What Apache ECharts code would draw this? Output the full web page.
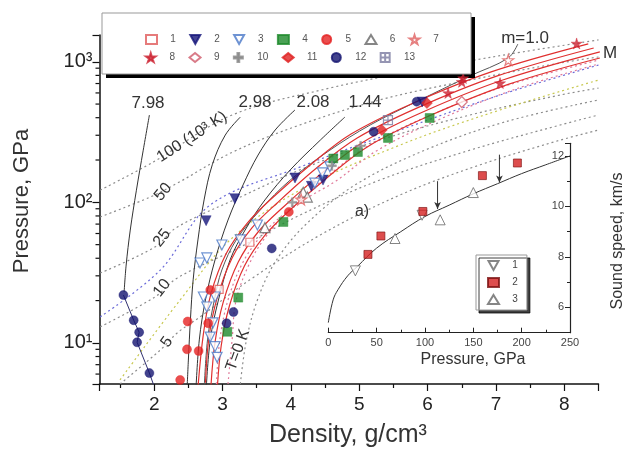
<!DOCTYPE html>
<html><head><meta charset="utf-8">
<script src="https://cdn.jsdelivr.net/npm/echarts@6/dist/echarts.min.js"></script>
<style>html,body{margin:0;padding:0;background:#fff}#c{width:626px;height:450px}</style>
</head><body><div id="c"></div>
<script>
// ---------- main plot: black Hugoniots (porosity m) ----------
const hug798 = [[1.93,418],[1.84,235],[1.74,122],[1.65,63.5],[1.59,35.8],[1.56,23.0]];
const hug798Tail = [[1.55,21.9],[1.70,14.5],[1.78,11.9],[1.75,10.1],[1.93,6.1],[2.02,4.6]];
const hug298 = [[3.26,404],[3.04,301],[2.85,185],[2.73,104],[2.64,54],[2.57,28.1],[2.53,14.6],[2.50,7.55],[2.48,4.6]];
const hug208 = [[4.06,454],[3.77,327],[3.52,217],[3.30,133],[3.08,74.8],[2.89,38.9],[2.75,20.2],[2.66,10.5],[2.61,4.6]];
const hug144 = [[4.79,404],[4.43,277],[3.99,170],[3.62,104],[3.33,63.5],[3.11,38.9],[2.94,20.2],[2.82,10.5],[2.76,4.6]];
const hugM1 = [[7.32,1337],[7.18,1064],[6.62,793],[5.89,535],[5.16,355],[4.57,235],[3.99,144],[3.55,88],[3.20,54],[2.99,33],[2.88,20.2],[2.78,10.5],[2.73,4.6]];
// ---------- red model Hugoniots ----------
const red1 = [[2.64,4.8],[2.72,11.6],[2.83,22.3],[3.05,42.9],[3.35,70.1],[3.71,105.6],[4.30,187.5],[4.88,306],[5.76,501],[6.93,847],[8.35,1340]];
const red2 = [[2.75,5.2],[2.80,10.8],[2.92,20.8],[3.14,40.2],[3.43,65.8],[3.80,99],[4.38,176],[4.97,287],[5.85,470],[7.02,793],[8.43,1253]];
const red3 = [[2.83,4.9],[2.89,10.1],[3.01,19.5],[3.23,37.6],[3.52,61.5],[3.89,92.7],[4.47,164],[5.06,269],[5.93,439],[7.10,741],[8.52,1175]];
const red4 = [[2.92,4.5],[2.98,9.5],[3.10,18.3],[3.32,35.2],[3.61,57.5],[3.97,86.7],[4.56,154],[5.14,252],[6.02,411],[7.19,693],[8.52,1064]];
// ---------- isotherms (10^3 K) ----------
const iso100 = [[1.21,122],[1.99,194],[3.14,418],[4.57,650],[5.89,874],[7.2,1135],[8.5,1429]];
const iso50 = [[1.21,78.7],[1.94,109],[2.34,137],[3.15,228],[4.13,355],[5.3,535],[6.62,741],[7.94,980],[8.5,1081]];
const iso25 = [[1.21,31.4],[2.01,48.1],[2.34,66.8],[3.26,109],[4.13,170],[5.3,277],[6.62,418],[7.94,580],[8.5,650]];
const iso10 = [[1.21,13],[2.01,21.2],[2.34,29],[3.26,48.1],[4.13,81],[5.3,144],[6.62,235],[7.94,355],[8.5,418]];
const iso5 = [[1.5,5.1],[2.09,8.9],[2.34,11.8],[2.67,15.3],[3.4,28.1],[4.43,58.6],[5.6,113],[6.77,185],[7.94,277],[8.5,327]];
const isoT0 = [[3.26,5.1],[3.35,10.5],[3.51,20.2],[3.77,37.6],[4.21,69],[4.94,133],[5.96,235],[7.13,373],[8.5,535]];
const blueDot = [[1.21,15.3],[2.09,33],[2.82,95.7],[4.13,178],[5.6,327],[7.06,580],[8.5,948]];
const yellowDot = [[1.5,5.45],[2.38,20.2],[3.11,54],[4.13,122],[5.6,256],[7.06,454],[8.5,741]];
const pinkDot1 = [[2.91,5.1],[2.96,10.5],[3.08,20.2],[3.30,37.6],[3.59,59.6],[3.96,88],[4.54,154],[5.13,252],[6.01,411],[7.18,683],[8.5,1028]];
const pinkDot2 = [[3.08,5.1],[3.14,10.5],[3.20,20.2],[3.42,38.9],[3.71,63.5],[4.08,95.7],[4.66,142],[5.25,232],[6.12,379],[7.29,640],[8.5,964]];
// ---------- experimental points (density, pressure) ----------
const s1 = [[2.95,24],[3.40,52]];
const s2 = [[2.76,74],[3.18,106],[4.06,149],[4.30,130],[4.47,144],[5.92,517]];
const s3 = [[2.67,37],[2.77,40.2],[2.72,21.2],[2.89,21.2],[2.77,18],[2.86,13.9],[2.82,11],[2.89,9.4],[2.92,7.9],[2.99,49.7],[3.26,54],[3.51,69],[4.35,137],[4.46,162],[4.57,179]];
const s4 = [[3.07,12],[3.23,21],[3.89,72.5],[4.62,205],[4.79,217],[4.98,228],[5.42,287],[6.03,398]];
const s5 = [[2.38,5.45],[2.48,9.0],[2.65,8.75],[2.49,14.2],[2.79,13.8],[2.82,23.8],[3.97,85.5]];
const s6 = [[4.18,118],[4.24,109],[3.62,66]];
const s7 = [[7.18,1029],[4.15,105]];
const s8 = [[6.30,600],[6.50,720],[6.52,765],[7.06,705],[8.18,1350]];
const s9 = [[6.50,517]];
const s10 = [[4.02,100],[4.60,182],[5.02,252]];
const s11 = [[5.99,508],[5.33,327]];
const s12 = [[1.55,21.9],[1.70,14.5],[1.78,11.9],[1.75,10.1],[1.93,6.1],[3.06,13.8],[3.16,16.6],[3.72,47],[5.21,318],[5.84,520]];
const s13 = [[5.42,385]];
// ---------- inset: sound speed vs pressure ----------
const insetCurve = [[0,5.4],[5,6.3],[10,6.7],[20,7.25],[30,7.62],[50,8.35],[75,9.0],[100,9.6],[125,10.05],[150,10.5],[175,10.9],[200,11.3],[225,11.65],[250,12.0]];
const a1 = [[28,7.45],[97,9.65]];
const a2 = [[41,8.1],[54.4,8.83],[97.8,9.8],[159.4,11.22],[195.6,11.72]];
const a3 = [[69,8.73],[115.7,9.47],[150,10.55]];
const arrow1 = [[113,11.0],[113,9.9]];
const arrow2 = [[177,12.05],[177,10.95]];
// ---------- ticks / legend labels ----------
const yMinorTicks = [6,7,8,9,20,30,40,50,60,70,80,90,200,300,400,500,600,700,800,900];
const legendRow1 = ['1','2','3','4','5','6','7'];
const legendRow2 = ['8','9','10','11','12','13'];
const insetLegend = ['a1','a2','a3'];

const FONT = 'Liberation Sans, Arial, sans-serif';
const STAR = 'path://M50,0 L61,35 L98,35 L68,57 L79,91 L50,70 L21,91 L32,57 L2,35 L39,35 Z';
const PLUS = 'path://M4,0h2v4h4v2h-4v4h-2v-4h-4v-2h4z';
const BOXX = 'path://M0,0H10V10H0ZM5,0V10M0,5H10';
const DOWN = 'path://M0,0L10,0L5,9Z';
const sup = {1:'\u00b9',2:'\u00b2',3:'\u00b3'};

function line(data, color, width, type, smooth){
  return {type:'line', xAxisIndex:0, yAxisIndex:0, data, symbol:'none', smooth: smooth==null?0.35:smooth,
    lineStyle:{color, width, type: type||'solid'}, silent:true, z:1};
}
function open(name, data, symbol, color, size, rot){
  return {type:'scatter', name, data, symbol, symbolSize:size||9, symbolRotate:rot||0,
    itemStyle:{color:'#fff', borderColor:color, borderWidth:1.2}, z:3};
}
function fill(name, data, symbol, color, size, rot){
  return {type:'scatter', name, data, symbol, symbolSize:size||9, symbolRotate:rot||0,
    itemStyle:{color:color, borderColor:color, borderWidth:0.5}, z:3};
}
const DOT = [2,3];
const series = [
  line(iso100,'#8c8c8c',1.2,DOT), line(iso50,'#8c8c8c',1.2,DOT), line(iso25,'#8c8c8c',1.2,DOT),
  line(iso10,'#8c8c8c',1.2,DOT), line(iso5,'#8c8c8c',1.2,DOT), line(isoT0,'#8c8c8c',1.2,DOT),
  line(blueDot,'#6a6ad8',1.2,DOT), line(yellowDot,'#c8c850',1.2,DOT),
  line(pinkDot1,'#e07a9a',1.2,DOT), line(pinkDot2,'#e07a9a',1.2,DOT),
  line(hug798,'#333',1), line(hug798Tail,'#303070',1,'solid',0), line(hug298,'#333',1), line(hug208,'#333',1),
  line(hug144,'#333',1), line(hugM1,'#555',1),
  line(red1,'#e0302f',1.2), line(red2,'#e0302f',1.2), line(red3,'#e0302f',1.2), line(red4,'#e0302f',1.2),
  open('1', s1, 'rect', '#e05a5a', 8),
  fill('2', s2, DOWN, '#15157a', 10),
  open('3', s3, DOWN, '#4a78c8', 10),
  fill('4', s4, 'rect', '#1d8a2a', 9),
  fill('5', s5, 'circle', '#e52222', 9),
  open('6', s6, 'triangle', '#666', 10),
  open('7', s7, STAR, '#e06060', 11),
  fill('8', s8, STAR, '#cc2030', 11),
  open('9', s9, 'diamond', '#d05a6a', 11),
  fill('10', s10, PLUS, '#888', 9),
  fill('11', s11, 'diamond', '#e02020', 11),
  fill('12', s12, 'circle', '#141470', 9),
  {type:'scatter', name:'13', data:s13, symbol:BOXX, symbolSize:9, itemStyle:{color:'rgba(255,255,255,0)', borderColor:'#7a7aa0', borderWidth:1.2}, z:3},
  {type:'custom', xAxisIndex:0, yAxisIndex:0, clip:false, silent:true, z:5,
    data: yMinorTicks.map(v=>[1.2, v]),
    renderItem:(p, api)=>{ const pt = api.coord([api.value(0), api.value(1)]);
      return {type:'line', shape:{x1:pt[0]-4, y1:pt[1], x2:pt[0], y2:pt[1]}, style:{stroke:'#111', lineWidth:1.2}}; }},
  // inset
  {type:'line', xAxisIndex:1, yAxisIndex:1, data:insetCurve, symbol:'none', smooth:0.4, silent:true,
    lineStyle:{color:'#333', width:1}, z:2},
  {type:'line', xAxisIndex:1, yAxisIndex:1, data:arrow1.map((d,i)=> i===0 ? {value:d, symbol:'none'} : {value:d}),
    symbol:'arrow', symbolRotate:180, symbolSize:[5,7], silent:true, showSymbol:true,
    lineStyle:{color:'#333', width:1}, itemStyle:{color:'#333'}, z:2},
  {type:'line', xAxisIndex:1, yAxisIndex:1, data:arrow2.map((d,i)=> i===0 ? {value:d, symbol:'none'} : {value:d}),
    symbol:'arrow', symbolRotate:180, symbolSize:[5,7], silent:true, showSymbol:true,
    lineStyle:{color:'#333', width:1}, itemStyle:{color:'#333'}, z:2},
  {type:'scatter', name:'a1', xAxisIndex:1, yAxisIndex:1, data:a1, symbol:DOWN, symbolSize:10,
    itemStyle:{color:'#fff', borderColor:'#666', borderWidth:1}, z:3},
  {type:'scatter', name:'a2', xAxisIndex:1, yAxisIndex:1, data:a2, symbol:'rect', symbolSize:8,
    itemStyle:{color:'#d42020', borderColor:'#7a1010', borderWidth:0.8}, z:3},
  {type:'scatter', name:'a3', xAxisIndex:1, yAxisIndex:1, data:a3, symbol:'triangle', symbolSize:10,
    itemStyle:{color:'#fff', borderColor:'#666', borderWidth:1}, z:3}
];

function txt(text, x, y, size, rot){
  return {type:'text', x, y, rotation: (rot||0)*Math.PI/180, z:6, silent:true,
    style:{text, fill:'#333', font: (size)+'px '+FONT, align:'center', verticalAlign:'middle'}};
}
const graphics = [
  {type:'rect', z:3, silent:true, shape:{x:106,y:17,width:369,height:61}, style:{fill:'#000'}},
  {type:'rect', z:4, silent:true, shape:{x:102,y:13,width:369,height:61}, style:{fill:'#fff', stroke:'#999', lineWidth:1}},
  txt('7.98',148,103,17), txt('2.98',255,102,17), txt('2.08',313,102,17), txt('1.44',365,102,17),
  txt('m=1.0',525,38,17), txt('M',610,53,17),
  txt('100 (10\u00b3 K)',192,137,16,33), txt('50',163,192,16,50), txt('25',162,238,16,52),
  txt('10',162,288,16,52), txt('5',167,342,16,55), txt('T=0 K',238,350,16,70),
  txt('a)',362,212,16),
  txt('Density, g/cm\u00b3',348,435,25),
  txt('Pressure, GPa',22,201,22,90),
  txt('Pressure, GPa',473,360,16),
  txt('Sound speed, km/s',618,241,16,90)
];

const legendCommon = {itemWidth:11, itemHeight:9, selectedMode:false, z:5, padding:0,
  textStyle:{fontSize:10, color:'#555', fontFamily:FONT}};
const chart = echarts.init(document.getElementById('c'), null, {renderer:'canvas'});
chart.setOption({
  animation:false,
  textStyle:{fontFamily:FONT},
  grid:[{left:99.5, right:27.5, top:35, bottom:66}, {left:328.3, right:56, top:143.3, bottom:117.3}],
  xAxis:[
    {type:'value', gridIndex:0, min:1.2, max:8.5, splitNumber:7,
      axisLine:{show:true, onZero:false, lineStyle:{color:'#111', width:1.5}},
      axisTick:{show:true, length:7, lineStyle:{color:'#111', width:1.2}},
      minorTick:{show:true, splitNumber:2, length:4, lineStyle:{color:'#111', width:1.2}},
      axisLabel:{fontSize:19, color:'#222', margin:11, formatter:v=> Number.isInteger(v)? String(v):''},
      splitLine:{show:false}},
    {type:'value', gridIndex:1, min:0, max:250, interval:50,
      axisLine:{show:true, onZero:false, lineStyle:{color:'#222', width:1.2}},
      axisTick:{show:true, inside:true, length:5, lineStyle:{color:'#222'}},
      minorTick:{show:true, splitNumber:2, length:3, lineStyle:{color:'#222'}},
      axisLabel:{fontSize:11, color:'#444', margin:5},
      splitLine:{show:false}}
  ],
  yAxis:[
    {type:'log', logBase:10, gridIndex:0, min:5.1, max:1550,
      axisLine:{show:true, onZero:false, lineStyle:{color:'#111', width:1.5}},
      axisTick:{show:true, length:7, lineStyle:{color:'#111', width:1.2}},
      axisLabel:{fontSize:20, color:'#222', margin:7,
        formatter:v=>{ const l=Math.log10(v), e=Math.round(l); return Math.abs(l-e)<1e-6 && sup[e] ? '10'+sup[e] : ''; }},
      splitLine:{show:false}},
    {type:'value', gridIndex:1, position:'right', min:5, max:12.5,
      axisLine:{show:true, onZero:false, lineStyle:{color:'#222', width:1.2}},
      axisTick:{show:true, inside:true, length:5, lineStyle:{color:'#222'}},
      minorTick:{show:true, splitNumber:2, length:3, lineStyle:{color:'#222'}},
      axisLabel:{inside:true, fontSize:11, color:'#444', margin:6, formatter:v=> (v%2===0 ? String(v) : '')},
      splitLine:{show:false}}
  ],
  legend:[
    Object.assign({}, legendCommon, {data:legendRow1, left:145, top:34, itemGap:13.4, formatter:'   {name}'}),
    Object.assign({}, legendCommon, {data:legendRow2, left:145, top:52, itemGap:13.4, formatter:'   {name}'}),
    Object.assign({}, legendCommon, {data:insetLegend, orient:'vertical', left:476, top:255, itemGap:6,
      padding:[5,9,5,11], backgroundColor:'#fff', borderColor:'#999', borderWidth:1,
      shadowColor:'rgba(0,0,0,0.75)', shadowOffsetX:3, shadowOffsetY:3, shadowBlur:0,
      formatter:n=>'   '+n.slice(1), textStyle:{fontSize:10, color:'#444', fontFamily:FONT}})
  ],
  graphic:{elements:graphics},
  series
});
</script></body></html>
